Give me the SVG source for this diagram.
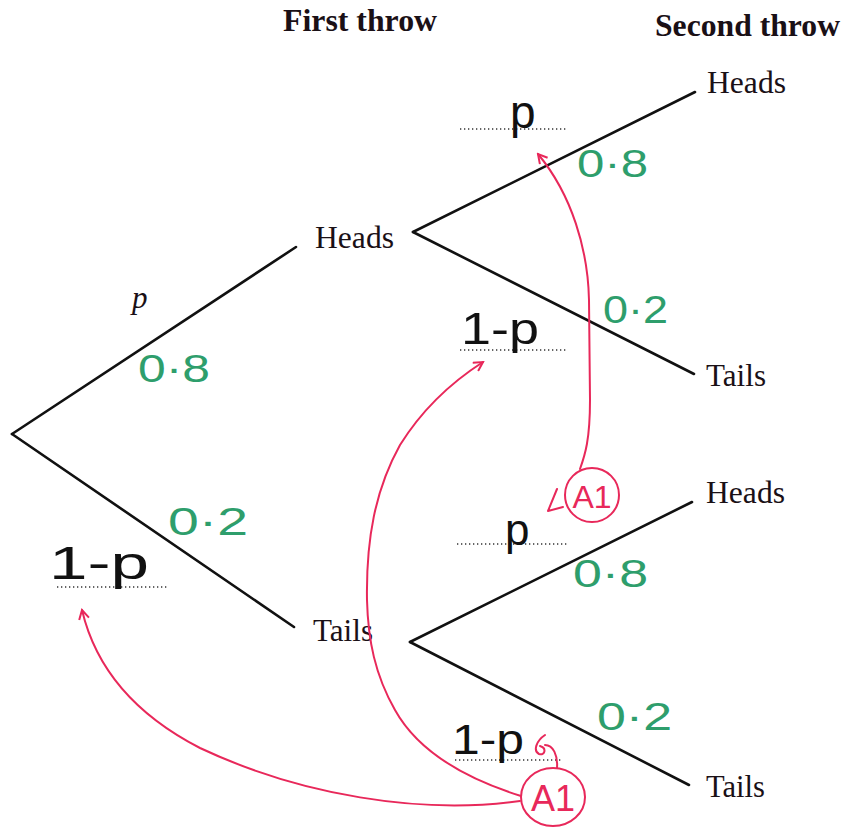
<svg xmlns="http://www.w3.org/2000/svg" width="845" height="829" viewBox="0 0 845 829">
<style>
.br{stroke:#111;stroke-width:2.6;fill:none;stroke-linecap:round}
.pr{font-family:"Liberation Serif","Times New Roman",serif;font-size:31px;fill:#1a1016}
.ttl{font-family:"Liberation Serif","Times New Roman",serif;font-size:32px;font-weight:bold;fill:#1a1016}
.dot{stroke:#333;stroke-width:1.4;stroke-dasharray:1.3 2.7;fill:none}
.hw{font-family:"Liberation Sans",Arial,sans-serif;fill:#111}
.gr{font-family:"Liberation Sans",Arial,sans-serif;font-size:38px;fill:#2e9e6c}
.rd{stroke:#e8285a;stroke-width:2;fill:none;stroke-linecap:round;stroke-linejoin:round}
.rt{font-family:"Liberation Sans",Arial,sans-serif;fill:#e8285a}
</style>
<defs>
<marker id="ah" viewBox="0 0 12 12" refX="10" refY="6" markerWidth="12" markerHeight="12" markerUnits="userSpaceOnUse" orient="auto">
<path d="M1 1 L10 6 L1 11" stroke="#e8285a" stroke-width="2" fill="none"/>
</marker>
</defs>
<rect width="845" height="829" fill="#fff"/>
<text class="ttl" x="283" y="31" textLength="154" lengthAdjust="spacingAndGlyphs">First throw</text>
<text class="ttl" x="655" y="36" textLength="185" lengthAdjust="spacingAndGlyphs">Second throw</text>
<g id="connectors">
<line class="br" x1="12" y1="434" x2="296" y2="247"/>
<line class="br" x1="12" y1="434" x2="294" y2="627"/>
<line class="br" x1="413" y1="232" x2="695" y2="92"/>
<line class="br" x1="413" y1="232" x2="694" y2="374"/>
<line class="br" x1="410" y1="642" x2="692" y2="502"/>
<line class="br" x1="410" y1="642" x2="689" y2="785"/>
</g>
<g id="node-first-heads"><text class="pr" x="315" y="248" textLength="79" lengthAdjust="spacingAndGlyphs">Heads</text></g>
<g id="node-first-tails"><text class="pr" x="313" y="641" textLength="60" lengthAdjust="spacingAndGlyphs">Tails</text></g>
<g id="node-hh"><text class="pr" x="707" y="93" textLength="79" lengthAdjust="spacingAndGlyphs">Heads</text></g>
<g id="node-ht"><text class="pr" x="706" y="386" textLength="60" lengthAdjust="spacingAndGlyphs">Tails</text></g>
<g id="node-th"><text class="pr" x="706" y="503" textLength="79" lengthAdjust="spacingAndGlyphs">Heads</text></g>
<g id="node-tt"><text class="pr" x="706" y="797" textLength="59" lengthAdjust="spacingAndGlyphs">Tails</text></g>
<text class="pr" x="132" y="308" font-style="italic">p</text>
<g id="blanks">
<line class="dot" x1="460" y1="129" x2="568" y2="129"/>
<line class="dot" x1="460" y1="350" x2="567" y2="350"/>
<line class="dot" x1="57" y1="587" x2="167" y2="587"/>
<line class="dot" x1="457" y1="544" x2="567" y2="544"/>
<line class="dot" x1="455" y1="760" x2="563" y2="760"/>
</g>
<g id="answers">
<text class="hw" x="510" y="128" font-size="46">p</text>
<text class="hw" x="461" y="344" font-size="44" textLength="78" lengthAdjust="spacingAndGlyphs">1-p</text>
<text class="hw" x="49" y="579" font-size="46" textLength="100" lengthAdjust="spacingAndGlyphs">1-p</text>
<text class="hw" x="505" y="545" font-size="44">p</text>
<text class="hw" x="452" y="754" font-size="42" textLength="72" lengthAdjust="spacingAndGlyphs">1-p</text>
</g>
<g id="green">
<text class="gr" x="577" y="177" textLength="71" lengthAdjust="spacingAndGlyphs">0·8</text>
<text class="gr" x="603" y="323" textLength="65" lengthAdjust="spacingAndGlyphs">0·2</text>
<text class="gr" x="138" y="382" textLength="72" lengthAdjust="spacingAndGlyphs">0·8</text>
<text class="gr" x="168" y="535" textLength="80" lengthAdjust="spacingAndGlyphs">0·2</text>
<text class="gr" x="573" y="587" textLength="75" lengthAdjust="spacingAndGlyphs">0·8</text>
<text class="gr" x="597" y="730" textLength="75" lengthAdjust="spacingAndGlyphs">0·2</text>
</g>
<g id="marks">
<ellipse class="rd" cx="592" cy="495" rx="27" ry="27"/>
<text class="rt" x="592" y="508" font-size="32" text-anchor="middle">A1</text>
<ellipse class="rd" cx="553" cy="797" rx="32" ry="29"/>
<text class="rt" x="553" y="811" font-size="36" text-anchor="middle">A1</text>
<path class="rd" d="M580 469 C585 455 590 440 590 400 L589 300 C588 250 572 195 538 154" marker-end="url(#ah)"/>
<path class="rd" d="M557 489 L548 511 L563 507"/>
<path class="rd" d="M521 796 C470 780 420 755 395 710 C375 675 368 640 367 600 C366 540 375 490 400 445 C425 405 455 380 483 362" marker-end="url(#ah)"/>
<path class="rd" d="M520 801 C420 815 300 795 200 748 C130 712 95 665 82 610" marker-end="url(#ah)"/>
<path class="rd" d="M557 768 C558 755 553 745 545 745 M545 735 C536 741 533 751 539 754 C545 756 547 748 540 746"/>
</g>
</svg>
